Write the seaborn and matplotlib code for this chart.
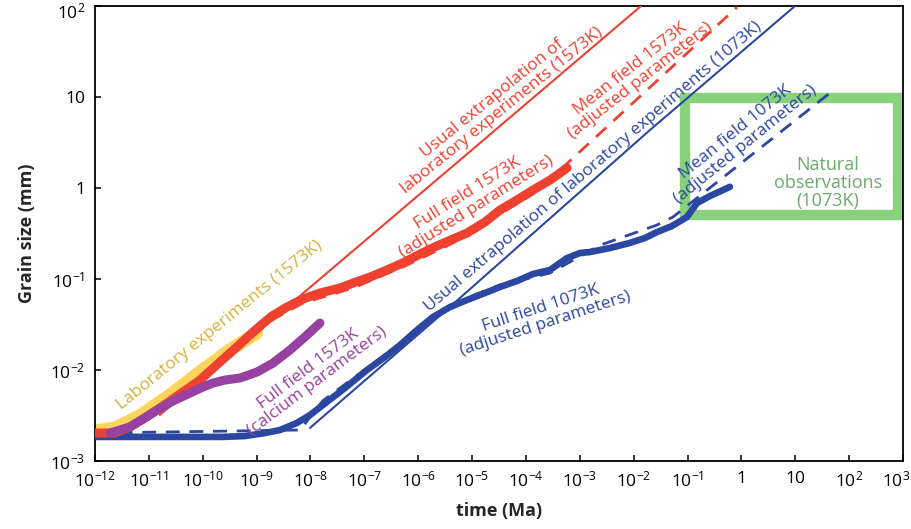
import matplotlib
matplotlib.use("Agg")
import matplotlib.pyplot as plt
import matplotlib.ticker as mticker
import matplotlib.transforms as mtrans
import seaborn as sns

# ---------------- data ----------------
lab_time = [1e-12, 2.35e-12, 6.8e-12, 2.47e-11, 8.9e-11, 3.2e-10, 1.0e-9]
lab_size = [2.14e-3, 2.3e-3, 3.13e-3, 5.3e-3, 9.5e-3, 0.0166, 0.0255]

red_ff_time = [1e-12, 2.35e-12, 4.47e-12, 8.47e-12, 1.61e-11, 3.79e-11, 8.9e-11, 2.09e-10,
               4.3e-10, 7.5e-10, 1.16e-9, 1.93e-9, 3.66e-9, 7.26e-9, 1.5e-8, 3.53e-8,
               6.2e-8, 1.27e-7, 2.63e-7, 5.69e-7, 1.08e-6, 2.23e-6, 4.43e-6, 8.05e-6,
               1.74e-5, 3.3e-5, 6.8e-5, 1.35e-4, 2.79e-4, 5.8e-4]
red_ff_size = [2.03e-3, 2.03e-3, 2.37e-3, 2.97e-3, 3.82e-3, 5.44e-3, 7.76e-3, 0.01225,
               0.0179, 0.0243, 0.0305, 0.0392, 0.0492, 0.0603, 0.0702, 0.0796,
               0.0904, 0.105, 0.1256, 0.154, 0.188, 0.231, 0.275, 0.32,
               0.423, 0.573, 0.738, 0.95, 1.22, 1.66]

red_mf_time = [1e-12, 4.47e-12, 1.61e-11, 4.3e-10, 1.93e-9, 7.26e-9, 6.2e-8, 5.69e-7,
               4.43e-6, 3.3e-5, 1.35e-4, 4.3e-4, 0.83]
red_mf_size = [2.0e-3, 2.3e-3, 3.63e-3, 0.0166, 0.0354, 0.0545, 0.0796, 0.139,
               0.249, 0.518, 0.859, 1.58, 97]

red_ue_time = [1.6e-11, 2.7e-9, 5.97e-6, 0.0137]
red_ue_size = [3.2e-3, 0.0423, 2.03, 100]

ca_time = [1.9e-12, 2.91e-12, 4.47e-12, 7.78e-12, 1.42e-11, 2.8e-11, 5.8e-11, 1.01e-10,
           1.55e-10, 2.59e-10, 4.92e-10, 1.02e-9, 2.01e-9, 4.17e-9, 7.9e-9, 1.5e-8]
ca_size = [2.03e-3, 2.19e-3, 2.37e-3, 2.9e-3, 3.63e-3, 4.56e-3, 5.58e-3, 6.5e-3,
           7.19e-3, 7.76e-3, 8.17e-3, 9.5e-3, 0.0119, 0.0166, 0.0231, 0.0328]

blue_ff_time = [1e-12, 2.38e-10, 6.1e-10, 1.43e-9, 2.72e-9, 5.6e-9, 9.8e-9, 1.7e-8, 4.38e-8,
                1.12e-7, 2.42e-7, 4.6e-7, 9.5e-7, 1.88e-6, 3.89e-6, 8.0e-6, 1.74e-5, 3.3e-5,
                6.8e-5, 1.35e-4, 2.79e-4, 5.8e-4, 1.01e-3, 1.55e-3, 3.63e-3, 8.5e-3, 0.0162,
                0.0271, 0.0514, 0.0976, 0.150, 0.26, 0.612]
blue_ff_size = [1.84e-3, 1.84e-3, 1.88e-3, 2.03e-3, 2.19e-3, 2.62e-3, 3.2e-3, 4.12e-3, 6.34e-3,
                0.01, 0.0139, 0.0188, 0.0275, 0.0382, 0.0492, 0.0587, 0.0702, 0.0817,
                0.095, 0.1135, 0.1256, 0.170, 0.193, 0.198, 0.219, 0.249, 0.2825,
                0.328, 0.382, 0.48, 0.684, 0.816, 1.03]

blue_mf_time = [1e-12, 6.4e-9, 1.7e-8, 1.12e-7, 4.6e-7, 1.88e-6, 8.0e-6, 3.3e-5, 2.8e-4,
                2.37e-3, 0.0271, 0.0537, 44]
blue_mf_size = [2.03e-3, 2.19e-3, 4.6e-3, 0.0105, 0.0197, 0.040, 0.062, 0.086, 0.1164,
                0.235, 0.392, 0.48, 11.07]

blue_ue_time = [9.8e-9, 2.88e-6, 0.0201, 9.9]
blue_ue_size = [2.31e-3, 0.0423, 4.34, 100]

nat_time = [0.09, 805]
nat_size = [0.505, 9.75]

x_ticks = [10.0 ** e for e in range(-12, 4)]
x_labels = [r"$\mathregular{10^{%d}}$" % e for e in range(-12, 0)] + ["1", "10",
            r"$\mathregular{10^{2}}$", r"$\mathregular{10^{3}}$"]
y_ticks = [1e-3, 1e-2, 1e-1, 1, 10, 100]
y_labels = [r"$\mathregular{10^{-3}}$", r"$\mathregular{10^{-2}}$", r"$\mathregular{10^{-1}}$",
            "1", "10", r"$\mathregular{10^{2}}$"]

# ---------------- style ----------------
sns.set_style("ticks")
plt.rcParams["font.family"] = ["Open Sans", "DejaVu Sans"]
plt.rcParams["mathtext.fontset"] = "custom"
plt.rcParams["mathtext.rm"] = "Open Sans"
plt.rcParams["mathtext.it"] = "Open Sans:italic"
plt.rcParams["mathtext.bf"] = "Open Sans:bold"

RED = "#ef4130"
BLUE = "#2c47a2"
YELLOW = "#fdd55c"
YELLOW_TXT = "#d8b13a"
PURPLE = "#9741a0"
GREEN = "#88d27c"
GREEN_TXT = "#6aaa6c"

fig = plt.figure(figsize=(9.12, 5.29), dpi=100)
ax = fig.add_axes([95 / 912, 68 / 529, 808 / 912, 455 / 529])
ax.set_xscale("log")
ax.set_yscale("log")


def line(x, y, **kw):
    sns.lineplot(x=x, y=y, ax=ax, sort=False, estimator=None, legend=False, **kw)


# natural observations box
box_x = [nat_time[0], nat_time[1], nat_time[1], nat_time[0], nat_time[0]]
box_y = [nat_size[0], nat_size[0], nat_size[1], nat_size[1], nat_size[0]]
line(box_x, box_y, color=GREEN, lw=7.5, solid_joinstyle="miter", zorder=1)

line(lab_time, lab_size, color=YELLOW, lw=9.5, solid_capstyle="round", zorder=2)
line(blue_ue_time, blue_ue_size, color=BLUE, lw=1.5, zorder=3)
line(blue_mf_time, blue_mf_size, color=BLUE, lw=2.0, linestyle=(0, (5, 3.5)), zorder=3)
line(blue_ff_time, blue_ff_size, color=BLUE, lw=4.8, solid_capstyle="round",
     solid_joinstyle="round", zorder=3)
line(red_mf_time, red_mf_size, color=RED, lw=2.0, linestyle=(0, (5, 3.5)), zorder=4)
line(red_ue_time, red_ue_size, color=RED, lw=1.5, zorder=4)
line(red_ff_time, red_ff_size, color=RED, lw=6.5, solid_capstyle="round",
     solid_joinstyle="round", zorder=4)
line(ca_time, ca_size, color=PURPLE, lw=6.5, solid_capstyle="round",
     solid_joinstyle="round", zorder=5)

# ---------------- annotations ----------------
fs = 12.4
tkw = dict(ha="center", va="center", rotation_mode="anchor", fontsize=fs, linespacing=1.0)
ax.text(2.1e-10, 0.031, "Laboratory experiments (1573K)", color=YELLOW_TXT, rotation=39, **tkw)
ax.text(1.1e-8, 0.0088, "Full field 1573K\n(calcium parameters)", color=PURPLE, rotation=37, **tkw)
ax.text(2.9e-5, 8.2, "Usual extrapolation of\nlaboratory experiments (1573K)", color=RED,
        rotation=39, **tkw)
ax.text(1.0e-5, 0.74, "Full field 1573K\n(adjusted parameters)", color=RED, rotation=32, **tkw)
ax.text(1.06e-2, 17.5, "Mean field 1573K\n(adjusted parameters)", color=RED, rotation=38, **tkw)
ax.text(1.75e-3, 1.7, "Usual extrapolation of laboratory experiments (1073K)", color=BLUE,
        rotation=40.5, **tkw)
ax.text(2.1e-4, 0.039, "Full field 1073K\n(adjusted parameters)", color=BLUE, rotation=18, **tkw)
ax.text(0.95, 3.5, "Mean field 1073K\n(adjusted parameters)", color=BLUE, rotation=39, **tkw)
ax.text(40, 1.13, "Natural\nobservations\n(1073K)", color=GREEN_TXT, ha="center", va="center",
        fontsize=13, linespacing=1.0)

# ---------------- axes ----------------
ax.set_xlim(1e-12, 1e3)
ax.set_ylim(1e-3, 1e2)
ax.set_xticks(x_ticks)
ax.set_xticklabels(x_labels)
ax.set_yticks(y_ticks)
ax.set_yticklabels(y_labels)
ax.xaxis.set_minor_locator(mticker.NullLocator())
ax.yaxis.set_minor_locator(mticker.NullLocator())
ax.tick_params(axis="both", which="major", direction="in", length=4, width=1.1,
               labelsize=12.5, pad=7, top=False, right=False, colors="black")
for sp in ax.spines.values():
    sp.set_visible(True)
    sp.set_linewidth(1.3)
    sp.set_color("black")

# keep the edge labels inside the canvas
last_x = ax.xaxis.get_major_ticks()[-1].label1
last_x.set_transform(last_x.get_transform() +
                     mtrans.ScaledTranslation(-0.07, 0, fig.dpi_scale_trans))
top_y = ax.yaxis.get_major_ticks()[-1].label1
top_y.set_transform(top_y.get_transform() +
                    mtrans.ScaledTranslation(0, -0.04, fig.dpi_scale_trans))

ax.set_xlabel("time (Ma)", fontsize=13, fontweight="bold", labelpad=8)
ax.set_ylabel("Grain size (mm)", fontsize=13, fontweight="bold", labelpad=10)

fig.savefig("out.png", dpi=100)
